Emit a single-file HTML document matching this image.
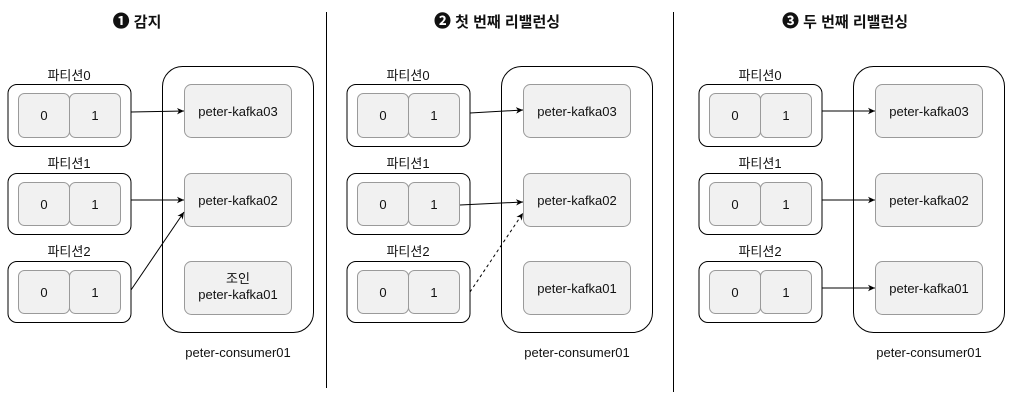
<!DOCTYPE html>
<html><head><meta charset="utf-8"><style>
html,body{margin:0;padding:0;background:#fff;width:1014px;height:407px;overflow:hidden}
svg text{font-family:"Liberation Sans","Noto Sans CJK KR",sans-serif;fill:#111}
</style></head><body>
<svg width="1014" height="407" viewBox="0 0 1014 407" xmlns="http://www.w3.org/2000/svg">
<defs>
<marker id="a" markerWidth="8" markerHeight="8" refX="7" refY="4" orient="auto" markerUnits="userSpaceOnUse">
<path d="M0,0.8 L7,4 L0,7.2 L2,4 Z" fill="#000"/></marker>
<g id="parts">
 <g font-size="13">
 <text x="69" y="80" text-anchor="middle">파티션0</text>
 <text x="69" y="168" text-anchor="middle">파티션1</text>
 <text x="69" y="256" text-anchor="middle">파티션2</text>
 </g>
 <g fill="#fff" stroke="#000" stroke-width="1">
 <rect x="8" y="84.5" width="123" height="62" rx="9"/>
 <rect x="8" y="173.5" width="123" height="61" rx="9"/>
 <rect x="8" y="261.5" width="123" height="61" rx="9"/>
 </g>
 <g fill="#f1f1f1" stroke="#9a9a9a" stroke-width="1">
 <rect x="18.5" y="93.5" width="51" height="44" rx="6"/><rect x="69.5" y="93.5" width="51" height="44" rx="6"/>
 <rect x="18.5" y="182.5" width="51" height="43" rx="6"/><rect x="69.5" y="182.5" width="51" height="43" rx="6"/>
 <rect x="18.5" y="270.5" width="51" height="43" rx="6"/><rect x="69.5" y="270.5" width="51" height="43" rx="6"/>
 </g>
 <g font-size="13" text-anchor="middle" fill="#222">
 <text x="44" y="120">0</text><text x="95" y="120">1</text>
 <text x="44" y="209">0</text><text x="95" y="209">1</text>
 <text x="44" y="297">0</text><text x="95" y="297">1</text>
 </g>
 <rect x="162.5" y="66.5" width="151" height="266" rx="20" fill="#fff" stroke="#000"/>
 <g fill="#f1f1f1" stroke="#9a9a9a">
 <rect x="184.5" y="84.5" width="107" height="53" rx="7"/>
 <rect x="184.5" y="173.5" width="107" height="53" rx="7"/>
 <rect x="184.5" y="261.5" width="107" height="53" rx="7"/>
 </g>
 <text x="238" y="357" font-size="13" text-anchor="middle">peter-consumer01</text>
</g>
</defs>
<line x1="326.5" y1="12" x2="326.5" y2="388" stroke="#000"/>
<line x1="673.5" y1="12" x2="673.5" y2="392" stroke="#000"/>

<!-- panel 1 -->
<use href="#parts"/>
<text x="137" y="27" font-size="15" font-weight="bold" text-anchor="middle"><tspan font-size="17">❶</tspan> 감지</text>
<g font-size="13" text-anchor="middle" fill="#222">
<text x="238" y="116">peter-kafka03</text>
<text x="238" y="205">peter-kafka02</text>
<text x="238" y="283">조인</text>
<text x="238" y="299">peter-kafka01</text>
</g>
<g stroke="#000" fill="none" marker-end="url(#a)">
<line x1="131" y1="112" x2="184" y2="111"/>
<line x1="131" y1="200" x2="184" y2="200"/>
<line x1="131" y1="290" x2="184" y2="212"/>
</g>

<!-- panel 2 -->
<g transform="translate(339,0)">
<use href="#parts"/>
<g font-size="13" text-anchor="middle" fill="#222">
<text x="238" y="116">peter-kafka03</text>
<text x="238" y="205">peter-kafka02</text>
<text x="238" y="293">peter-kafka01</text>
</g>
<g stroke="#000" fill="none" marker-end="url(#a)">
<line x1="131" y1="113" x2="184" y2="110"/>
<line x1="121" y1="205" x2="184" y2="202"/>
<line x1="131" y1="292" x2="184" y2="213" stroke-dasharray="3,3"/>
</g>
</g>
<text x="497" y="27" font-size="15" font-weight="bold" text-anchor="middle"><tspan font-size="17">❷</tspan> 첫 번째 리밸런싱</text>

<!-- panel 3 -->
<g transform="translate(691,0)">
<use href="#parts"/>
<g font-size="13" text-anchor="middle" fill="#222">
<text x="238" y="116">peter-kafka03</text>
<text x="238" y="205">peter-kafka02</text>
<text x="238" y="293">peter-kafka01</text>
</g>
<g stroke="#000" fill="none" marker-end="url(#a)">
<line x1="131" y1="111" x2="184" y2="111"/>
<line x1="131" y1="200" x2="184" y2="200"/>
<line x1="131" y1="288" x2="184" y2="288"/>
</g>
</g>
<text x="845" y="27" font-size="15" font-weight="bold" text-anchor="middle"><tspan font-size="17">❸</tspan> 두 번째 리밸런싱</text>
</svg>
</body></html>
